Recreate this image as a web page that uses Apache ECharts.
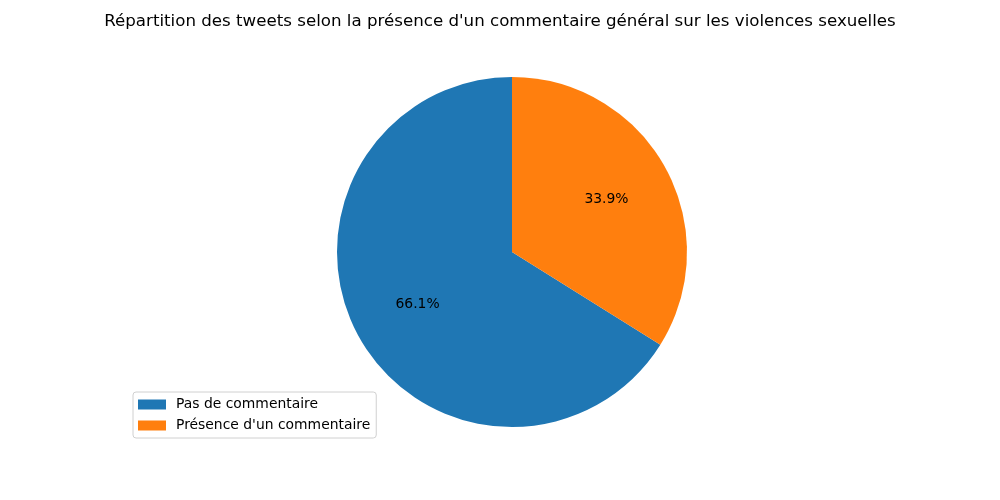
<!DOCTYPE html>
<html>
<head>
<meta charset="utf-8">
<script src="https://cdn.jsdelivr.net/npm/echarts@6/dist/echarts.min.js"></script>
<style>
    html, body { margin: 0; padding: 0; background: #fff; }
    #chart { width: 1000px; height: 500px; }
</style>
</head>
<body>
<div id="chart"></div>
<script>
    // données
    var categories = ['Pas de commentaire', "Présence d'un commentaire"];
    var values = [66.1, 33.9];
    var colors = ['#1f77b4', '#ff7f0e'];

    var pieData = [];
    for (var i = 0; i < categories.length; i++) {
        pieData.push({ name: categories[i], value: values[i], itemStyle: { color: colors[i] } });
    }

    var myChart = echarts.init(document.getElementById('chart'));
    var font = 'DejaVu Sans';

    var option = {
        animation: false,
        title: {
            text: "Répartition des tweets selon la présence d'un commentaire général sur les violences sexuelles",
            left: 'center',
            top: 8,
            textStyle: { fontFamily: font, fontSize: 16.67, fontWeight: 'normal', color: '#000' }
        },
        legend: {
            data: categories,
            orient: 'vertical',
            left: 133,
            top: 392,
            padding: [5, 6, 5, 5],
            itemWidth: 28,
            itemHeight: 10,
            itemGap: 6,
            borderColor: '#d0d0d0',
            borderWidth: 1,
            borderRadius: 3,
            icon: 'rect',
            textStyle: { fontFamily: font, fontSize: 13.9, color: '#000', lineHeight: 15, padding: [0, 0, 0, 5] }
        },
        series: [
            {
                type: 'pie',
                center: [512, 252],
                radius: [0, 175],
                startAngle: 90,
                clockwise: false,
                data: pieData,
                label: { show: false },
                labelLine: { show: false },
                emphasis: { disabled: true },
                itemStyle: { borderWidth: 0 }
            },
            {
                // série invisible pour placer les pourcentages à 0.6 r
                type: 'pie',
                center: [512, 252],
                radius: [0, 210],
                startAngle: 90,
                clockwise: false,
                silent: true,
                data: pieData.map(function (d) {
                    return { name: d.name, value: d.value, itemStyle: { color: 'rgba(0,0,0,0)' } };
                }),
                label: {
                    show: true,
                    position: 'inside',
                    formatter: function (p) { return p.value.toFixed(1) + '%'; },
                    fontFamily: font,
                    fontSize: 13.9,
                    color: '#000'
                },
                labelLine: { show: false },
                emphasis: { disabled: true }
            }
        ]
    };

    myChart.setOption(option);
</script>
</body>
</html>
